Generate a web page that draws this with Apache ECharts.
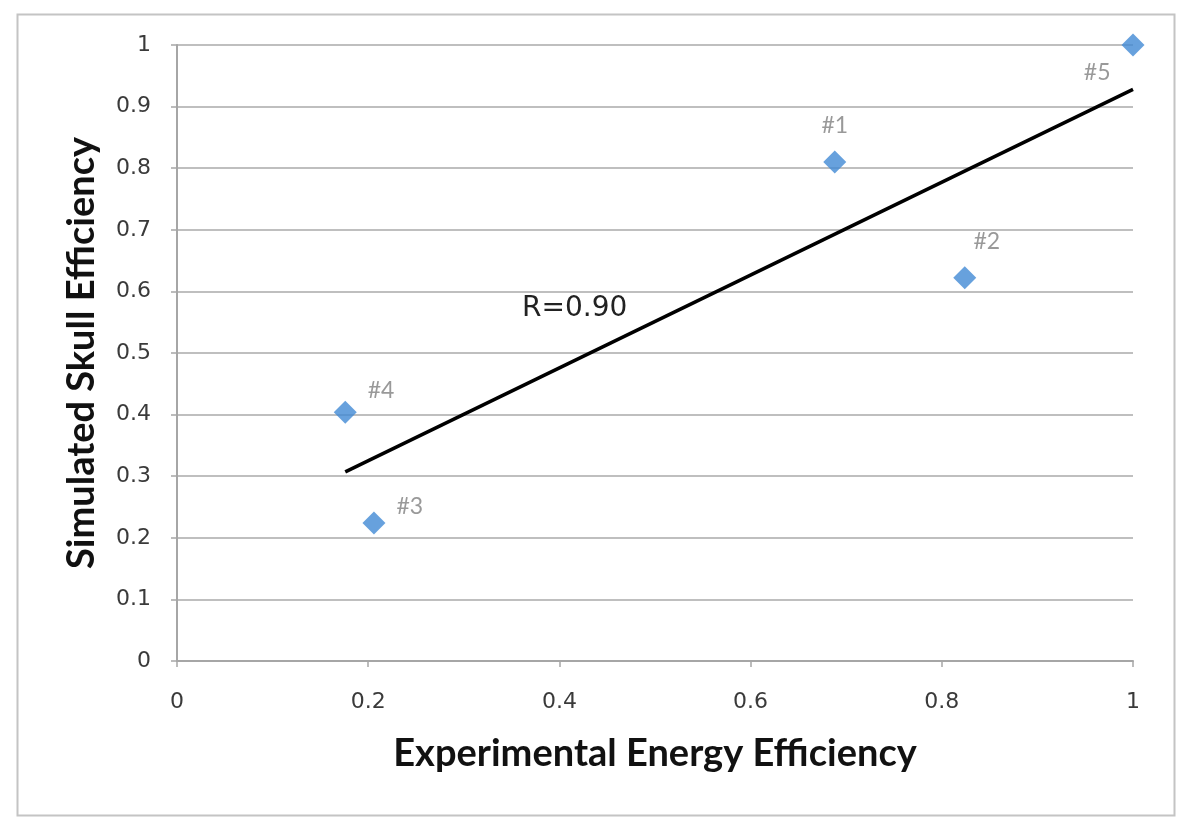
<!DOCTYPE html>
<html><head><meta charset="utf-8">
<script src="https://cdn.jsdelivr.net/npm/echarts@6/dist/echarts.min.js"></script>
<style>html,body{margin:0;padding:0;background:#fff}#c{width:1200px;height:832px}</style>
</head><body><div id="c"></div>
<script>
const pointLabels = ['#1', '#2', '#3', '#4', '#5'];
const expEff = [0.688, 0.824, 0.206, 0.176, 1.0];
const simEff = [0.810, 0.622, 0.224, 0.404, 1.0];
const trendX = [0.176, 1.0];
const trendY = [0.307, 0.928];
const xTicks = [0, 0.2, 0.4, 0.6, 0.8, 1];
const yTicks = [0, 0.1, 0.2, 0.3, 0.4, 0.5, 0.6, 0.7, 0.8, 0.9, 1];
const rText = 'R=0.90';
const rPos = [0.416, 0.572];

const labelPos = {
  '#1': {position: 'top', offset: [0, -8]},
  '#2': {position: 'top', offset: [22, -8]},
  '#3': {position: 'right', offset: [6, -16]},
  '#4': {position: 'right', offset: [6, -22]},
  '#5': {position: 'left', offset: [-6, 28]}
};

const chart = echarts.init(document.getElementById('c'));
const font = 'Lato, "Open Sans", sans-serif';
const tickFont = '"DejaVu Sans", sans-serif';
chart.setOption({
  animation: false,
  backgroundColor: '#fff',
  grid: {left: 177, right: 67, top: 45, bottom: 171},
  graphic: [{
    type: 'rect', left: 15, top: 12, z: -1,
    shape: {width: 1157, height: 801},
    style: {fill: 'none', stroke: '#c4c4c4', lineWidth: 2}
  }],
  xAxis: {
    type: 'value', min: 0, max: 1, interval: 0.2,
    name: 'Experimental Energy Efficiency', nameLocation: 'middle', nameGap: 74,
    nameTextStyle: {fontFamily: font, fontWeight: 'bold', fontSize: 38, color: '#111'},
    axisLine: {show: true, lineStyle: {color: '#a6a6a6', width: 2}},
    axisTick: {show: true, length: 6, lineStyle: {color: '#a6a6a6', width: 1.5}},
    axisLabel: {fontFamily: tickFont, fontSize: 22, color: '#3a3a3a', margin: 30,
      formatter: v => { const r = Math.round(v * 10) / 10; return xTicks.includes(r) ? String(r) : ''; }},
    splitLine: {show: false}
  },
  yAxis: {
    type: 'value', min: 0, max: 1, interval: 0.1,
    name: 'Simulated Skull Efficiency', nameLocation: 'middle', nameGap: 76,
    nameTextStyle: {fontFamily: font, fontWeight: 'bold', fontSize: 38, color: '#111'},
    axisLine: {show: true, lineStyle: {color: '#a6a6a6', width: 2}},
    axisTick: {show: true, length: 6, lineStyle: {color: '#a6a6a6', width: 1.5}},
    axisLabel: {fontFamily: tickFont, fontSize: 22, color: '#3a3a3a', margin: 26,
      formatter: v => { const r = Math.round(v * 10) / 10; return yTicks.includes(r) ? String(r) : ''; }},
    splitLine: {show: true, lineStyle: {color: '#bfbfbf', width: 2}}
  },
  series: [
    {
      type: 'line', data: trendX.map((x, i) => [x, trendY[i]]),
      showSymbol: false, symbol: 'none',
      lineStyle: {color: '#000', width: 3.5},
      z: 2,
      markPoint: {
        symbol: 'circle', symbolSize: 2,
        itemStyle: {color: 'rgba(0,0,0,0)'},
        data: [{coord: rPos, value: rText}],
        label: {show: true, position: 'inside', formatter: rText, fontFamily: tickFont, fontSize: 28, color: '#222'}
      }
    },
    {
      type: 'scatter', symbol: 'diamond', symbolSize: 23,
      itemStyle: {color: '#4189d4'},
      z: 3,
      data: expEff.map((x, i) => ({
        value: [x, simEff[i]],
        label: Object.assign({show: true, formatter: pointLabels[i], fontFamily: font, fontSize: 23, color: '#7f7f7f'}, labelPos[pointLabels[i]])
      }))
    }
  ]
});
</script></body></html>
